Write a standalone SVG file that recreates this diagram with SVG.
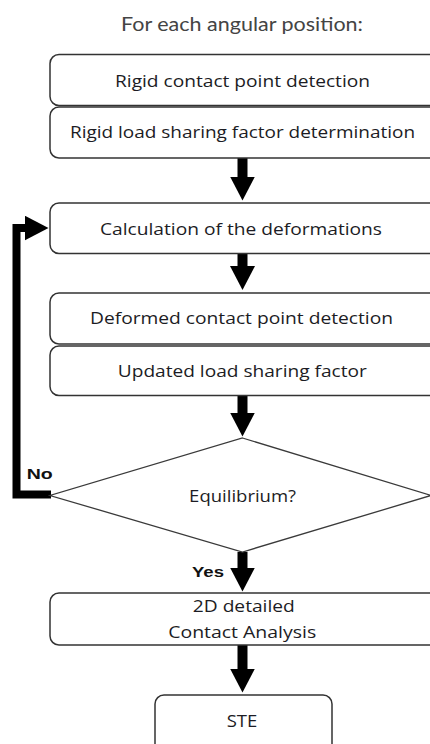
<svg xmlns="http://www.w3.org/2000/svg" width="430" height="744" viewBox="0 0 430 744">
  <style>
    .box { fill: #ffffff; stroke: #333333; stroke-width: 1.5; }
    .dec { fill: #ffffff; stroke: #3a3a3a; stroke-width: 1.3; }
    .lbl { font-family: "Open Sans", "Liberation Sans", Arial, sans-serif; font-size: 16px; fill: #1c1c24; text-anchor: middle; }
    .tag { font-family: "Liberation Sans", Arial, sans-serif; font-size: 15px; font-weight: bold; fill: #111111; }
    .title { font-family: Lato, "Liberation Sans", sans-serif; font-size: 18.5px; fill: #444444; text-anchor: middle; }
    .flow { fill: none; stroke: #000000; stroke-width: 10; marker-end: url(#head); }
    .loop { fill: none; stroke: #000000; stroke-width: 8; stroke-linejoin: miter; marker-end: url(#head); }
  </style>
  <defs>
    <marker id="head" viewBox="0 0 24 25" markerWidth="24" markerHeight="25" refX="0.5" refY="12.5" orient="auto" markerUnits="userSpaceOnUse">
      <path d="M0,0 L24,12.5 L0,25 Z" fill="#000000"/>
    </marker>
  </defs>

  <rect width="430" height="744" fill="#ffffff"/>

  <text class="title" x="242" y="31" textLength="242" lengthAdjust="spacingAndGlyphs">For each angular position:</text>

  <g id="connectors">
    <line class="flow" x1="242.5" y1="158" x2="242.5" y2="177"/>
    <line class="flow" x1="242.5" y1="253.5" x2="242.5" y2="266.5"/>
    <line class="flow" x1="242.5" y1="395.5" x2="242.5" y2="413"/>
    <line class="flow" x1="242.5" y1="552" x2="242.5" y2="568"/>
    <line class="flow" x1="242.5" y1="645" x2="242.5" y2="669"/>
    <polyline class="loop" points="51,494.5 16.5,494.5 16.5,228 25,228"/>
    <text class="tag" x="26.7" y="479" textLength="26" lengthAdjust="spacingAndGlyphs">No</text>
    <text class="tag" x="192" y="577" textLength="32" lengthAdjust="spacingAndGlyphs">Yes</text>
  </g>

  <g id="rigid-contact">
    <rect class="box" x="50" y="54.5" width="390" height="51" rx="9"/>
    <text class="lbl" x="242.5" y="87" textLength="255" lengthAdjust="spacingAndGlyphs">Rigid contact point detection</text>
  </g>

  <g id="rigid-load-sharing">
    <rect class="box" x="50" y="107" width="390" height="51" rx="9"/>
    <text class="lbl" x="242.5" y="138" textLength="345" lengthAdjust="spacingAndGlyphs">Rigid load sharing factor determination</text>
  </g>

  <g id="deformations">
    <rect class="box" x="50" y="203" width="390" height="50.5" rx="9"/>
    <text class="lbl" x="241" y="235" textLength="282" lengthAdjust="spacingAndGlyphs">Calculation of the deformations</text>
  </g>

  <g id="deformed-contact">
    <rect class="box" x="50" y="293" width="390" height="51" rx="9"/>
    <text class="lbl" x="241.5" y="324" textLength="303" lengthAdjust="spacingAndGlyphs">Deformed contact point detection</text>
  </g>

  <g id="updated-load-sharing">
    <rect class="box" x="50" y="346" width="390" height="49.5" rx="9"/>
    <text class="lbl" x="242.3" y="376.5" textLength="249" lengthAdjust="spacingAndGlyphs">Updated load sharing factor</text>
  </g>

  <g id="equilibrium">
    <polygon class="dec" points="242.5,438 431,495.5 242.5,552 50,495.5"/>
    <text class="lbl" x="242.6" y="501.5" textLength="107" lengthAdjust="spacingAndGlyphs">Equilibrium?</text>
  </g>

  <g id="contact-analysis">
    <rect class="box" x="50" y="593" width="390" height="52" rx="9"/>
    <text class="lbl" x="243.8" y="612" textLength="102" lengthAdjust="spacingAndGlyphs">2D detailed</text>
    <text class="lbl" x="242.2" y="638" textLength="148" lengthAdjust="spacingAndGlyphs">Contact Analysis</text>
  </g>

  <g id="ste">
    <rect class="box" x="155" y="695" width="177" height="70" rx="9"/>
    <text class="lbl" x="242" y="726.5" textLength="30.6" lengthAdjust="spacingAndGlyphs">STE</text>
  </g>
</svg>
